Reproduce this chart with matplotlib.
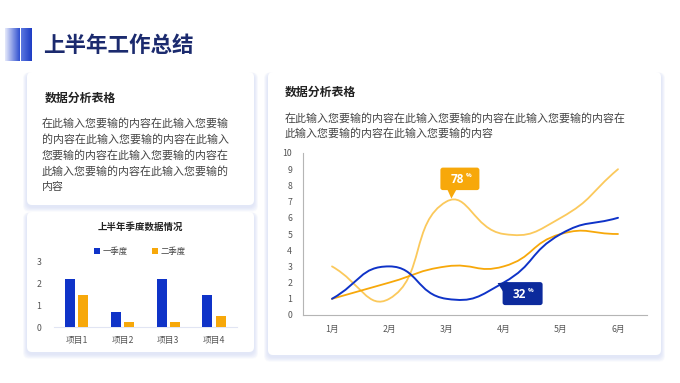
import numpy as np
import matplotlib
matplotlib.use("Agg")
import matplotlib.pyplot as plt
from matplotlib.patches import FancyBboxPatch, Polygon
from matplotlib.path import Path
from matplotlib.patches import PathPatch
from matplotlib.colors import LinearSegmentedColormap

plt.rcParams['font.family'] = ['Noto Sans CJK SC', 'DejaVu Sans']

# ---------------- data ----------------
page_title = "上半年工作总结"
card_title = "数据分析表格"
left_text = ["在此输入您要输的内容在此输入您要输",
             "的内容在此输入您要输的内容在此输入",
             "您要输的内容在此输入您要输的内容在",
             "此输入您要输的内容在此输入您要输的",
             "内容"]
right_text = ["在此输入您要输的内容在此输入您要输的内容在此输入您要输的内容在",
              "此输入您要输的内容在此输入您要输的内容"]

bar_title = "上半年季度数据情况"
bar_categories = ["项目1", "项目2", "项目3", "项目4"]
bar_series_names = ["一季度", "二季度"]
bar_q1 = [2.2, 0.7, 2.2, 1.5]
bar_q2 = [1.5, 0.25, 0.25, 0.5]
bar_yticks = [0, 1, 2, 3]

months = ["1月", "2月", "3月", "4月", "5月", "6月"]
line_blue = [1, 3, 1, 2, 5, 6]
line_orange = [1, 2, 3, 3, 5, 5]
line_light = [3, 1, 7, 5, 6, 9]
line_yticks = list(range(0, 11))
callout_hi = ("78", "%")
callout_lo = ("32", "%")

BLUE = "#0f33c8"
ORANGE = "#f7a80a"
LIGHT = "#fbc95c"
NAVY = "#0c2a9c"
TITLE = "#1b2a6e"

W, H = 680, 383
fig = plt.figure(figsize=(W / 100, H / 100), dpi=100)
fig.patch.set_facecolor("white")

bg = fig.add_axes([0, 0, 1, 1], zorder=0)
bg.axis("off")


def px_axes(x0, y0, x1, y1, z=2):
    a = fig.add_axes([x0 / W, 1 - y1 / H, (x1 - x0) / W, (y1 - y0) / H], zorder=z)
    a.patch.set_alpha(0)
    return a


def card(x0, y0, x1, y1):
    # soft bluish shadow
    for i in range(8, 0, -1):
        bg.add_patch(FancyBboxPatch((x0 - i * 0.5, y0 - i * 0.2 + 2), (x1 - x0) + i * 1.0, (y1 - y0) + i * 0.8,
                                    boxstyle="round,pad=0,rounding_size=6", fc="#c9d3f7",
                                    ec="none", alpha=0.08, zorder=1))
    bg.add_patch(FancyBboxPatch((x0, y0), x1 - x0, y1 - y0,
                                boxstyle="round,pad=0,rounding_size=5", fc="white",
                                ec="none", zorder=2))


card(27, 72, 254, 205)
card(27, 212, 254, 352)
card(268, 72, 661, 355)

# title decoration bars (gradients)
grad = np.linspace(0, 1, 64).reshape(1, -1)
cm1 = LinearSegmentedColormap.from_list("g1", ["#e6eafb", "#2f4fd0"])
cm2 = LinearSegmentedColormap.from_list("g2", ["#5c78e0", "#1d3cc4"])
bg.imshow(grad, cmap=cm1, extent=(5, 20, 61, 28), aspect="auto", zorder=3)
bg.imshow(grad, cmap=cm2, extent=(20.5, 31, 61, 28), aspect="auto", zorder=3)
bg.set_xlim(0, W)
bg.set_ylim(H, 0)

bg.text(43, 45, page_title, fontsize=15.5, fontweight="bold", color=TITLE,
        va="center", ha="left", zorder=4)

# left top card
bg.text(45, 98, card_title, fontsize=8.6, fontweight="bold", color="#222222",
        va="center", ha="left", zorder=4)
for i, line in enumerate(left_text):
    bg.text(42, 123 + i * 16, line, fontsize=7.9, color="#444444",
            va="center", ha="left", zorder=4)

# right card text
bg.text(285, 92.5, card_title, fontsize=8.6, fontweight="bold", color="#222222",
        va="center", ha="left", zorder=4)
for i, line in enumerate(right_text):
    bg.text(285, 118 + i * 15.5, line, fontsize=7.9, color="#444444",
            va="center", ha="left", zorder=4)

# ---------------- bar chart ----------------
bg.text(140, 227, bar_title, fontsize=6.8, fontweight="bold", color="#222222",
        va="center", ha="center", zorder=4)
bax = px_axes(53.8, 261.7, 237, 327.3)
x = np.arange(len(bar_categories))
bw = 0.22
bax.bar(x - 0.145, bar_q1, width=bw, color=BLUE, label=bar_series_names[0], zorder=3)
bax.bar(x + 0.145, bar_q2, width=bw, color=ORANGE, label=bar_series_names[1], zorder=3)
bax.set_xlim(-0.5, 3.5)
bax.set_ylim(0, 3)
bax.set_yticks(bar_yticks)
bax.set_xticks(x)
bax.set_xticklabels(bar_categories)
for s in ["top", "right", "left"]:
    bax.spines[s].set_visible(False)
bax.spines["bottom"].set_color("#e1e5f3")
bax.spines["bottom"].set_linewidth(0.8)
bax.tick_params(length=0, labelsize=6.3, colors="#555555", pad=6)
bax.tick_params(axis="y", pad=9)
leg = bax.legend(loc="lower center", bbox_to_anchor=(0.47, 1.04), ncol=2, frameon=False,
                 fontsize=6.0, handlelength=0.7, handleheight=0.7, columnspacing=3.0,
                 handletextpad=0.3, borderaxespad=0)
for t in leg.get_texts():
    t.set_color("#444444")

# ---------------- line chart ----------------
lax = px_axes(303.4, 153, 646.6, 315)
lax.set_xlim(-0.5, 5.5)
lax.set_ylim(0, 10)
lax.set_xticks(range(len(months)))
lax.set_xticklabels(months)
lax.set_yticks(line_yticks)
for s in ["top", "right"]:
    lax.spines[s].set_visible(False)
lax.spines["left"].set_color("#b5b5b5")
lax.spines["bottom"].set_color("#b5b5b5")
lax.spines["left"].set_linewidth(0.8)
lax.spines["bottom"].set_linewidth(0.8)
lax.tick_params(length=0, labelsize=6.3, colors="#555555")
lax.tick_params(axis="y", pad=8)
lax.tick_params(axis="x", pad=7)

fig.canvas.draw()


def smooth_path(ax, ys, smooth=0.5):
    """ECharts-like bezier smoothing computed in display space."""
    pts = ax.transData.transform(np.column_stack([np.arange(len(ys)), ys]))
    n = len(pts)
    cps = []
    for i in range(n):
        p = pts[i]
        prev = pts[i - 1] if i > 0 else p
        nxt = pts[i + 1] if i < n - 1 else p
        v = (nxt - prev) * smooth
        d0 = np.hypot(*(p - prev))
        d1 = np.hypot(*(p - nxt))
        s = d0 + d1
        if s == 0:
            cps.append((p, p))
            continue
        cps.append((p - v * d0 / s, p + v * d1 / s))
    verts = [pts[0]]
    codes = [Path.MOVETO]
    for i in range(n - 1):
        verts += [cps[i][1], cps[i + 1][0], pts[i + 1]]
        codes += [Path.CURVE4] * 3
    verts = ax.transData.inverted().transform(np.array(verts))
    return Path(verts, codes)


for ys, col, lw in [(line_light, LIGHT, 1.3), (line_orange, ORANGE, 1.3), (line_blue, BLUE, 1.4)]:
    lax.add_patch(PathPatch(smooth_path(lax, ys), fc="none", ec=col, lw=lw, zorder=3,
                            capstyle="round", joinstyle="round"))

# callouts on top overlay
top = fig.add_axes([0, 0, 1, 1], zorder=5)
top.set_xlim(0, W)
top.set_ylim(H, 0)
top.axis("off")


def to_top(ax, xv, yv):
    return top.transData.inverted().transform(ax.transData.transform((xv, yv)))


ax_, ay_ = to_top(lax, 2, line_light[2])
top.add_patch(FancyBboxPatch((ax_ - 6, ay_ - 34), 39, 22.5,
                             boxstyle="round,pad=0,rounding_size=2.5", fc=ORANGE, ec="none"))
top.add_patch(Polygon([(ax_ + 1, ay_ - 12), (ax_ + 10, ay_ - 12), (ax_ + 5, ay_ - 3)],
                      closed=True, fc=ORANGE, ec="none"))
top.text(ax_ + 11, ay_ - 22.5, callout_hi[0], fontsize=8.5, fontweight="bold", color="white",
         ha="center", va="center", family=["Open Sans", "DejaVu Sans"])
top.text(ax_ + 19.5, ay_ - 26, callout_hi[1], fontsize=4.5, fontweight="bold", color="white",
         ha="left", va="center", family=["Open Sans", "DejaVu Sans"])

bx_, by_ = to_top(lax, 3, line_blue[3])
top.add_patch(FancyBboxPatch((bx_ - 1, by_ - 0.5), 40, 23,
                             boxstyle="round,pad=0,rounding_size=2.5", fc=NAVY, ec="none"))
top.add_patch(Polygon([(bx_ - 6, by_ + 0.5), (bx_ + 5, by_ - 0.5), (bx_ - 0.5, by_ + 9)],
                      closed=True, fc=NAVY, ec="none"))
top.text(bx_ + 16, by_ + 11.5, callout_lo[0], fontsize=8.5, fontweight="bold", color="white",
         ha="center", va="center", family=["Open Sans", "DejaVu Sans"])
top.text(bx_ + 24.5, by_ + 8, callout_lo[1], fontsize=4.5, fontweight="bold", color="white",
         ha="left", va="center", family=["Open Sans", "DejaVu Sans"])

fig.savefig("out.png", dpi=100, facecolor="white")
